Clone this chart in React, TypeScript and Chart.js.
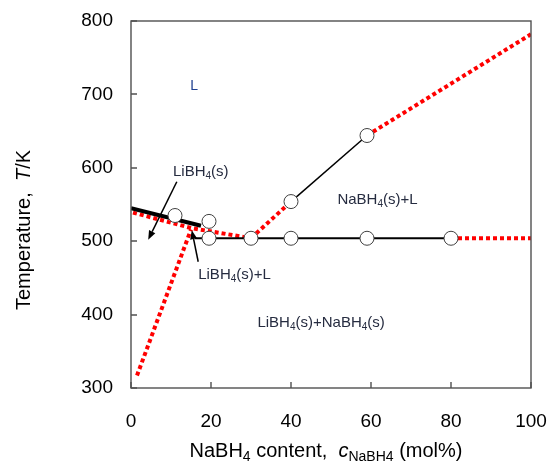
import React, { useEffect, useRef } from "react";
import { Chart, registerables } from "chart.js";
Chart.register(...registerables);

// ---- data (x: NaBH4 content mol%, y: temperature K) ----
const xTickValues = [0, 20, 40, 60, 80, 100];
const yTickValues = [300, 400, 500, 600, 700, 800];

const thickSolidX = [0, 17.5];
const thickSolidY = [545, 521];
const eutecticX = [16, 80];
const eutecticY = [504, 504];
const liquidusNaX = [40, 59];
const liquidusNaY = [554, 644];

const redLiX = [0.5, 15, 30];
const redLiY = [539, 518, 504];
const redSteepX = [1.5, 15];
const redSteepY = [317, 516];
const redMidX = [30, 40];
const redMidY = [504, 554];
const redHighX = [59, 100];
const redHighY = [644, 782];
const redFlatX = [80, 100];
const redFlatY = [504, 504];

const circleX = [11, 19.5, 19.5, 30, 40, 59, 80, 40, 59];
const circleY = [535, 527, 504, 504, 504, 504, 504, 554, 644];

type Part = { t: string; sub?: boolean; italic?: boolean };
const labelL: Part[] = [{ t: "L" }];
const labelLi: Part[] = [{ t: "LiBH" }, { t: "4", sub: true }, { t: "(s)" }];
const labelLiL: Part[] = [{ t: "LiBH" }, { t: "4", sub: true }, { t: "(s)+L" }];
const labelNaL: Part[] = [{ t: "NaBH" }, { t: "4", sub: true }, { t: "(s)+L" }];
const labelLiNa: Part[] = [
  { t: "LiBH" }, { t: "4", sub: true }, { t: "(s)+NaBH" }, { t: "4", sub: true }, { t: "(s)" },
];
const labelAnchorsX = [14.8, 10.5, 16.8, 51.6, 31.6];
const labelAnchorsY = [711, 595, 454, 556, 389];
const labelParts = [labelL, labelLi, labelLiL, labelNaL, labelLiNa];

const arrowFromX = [11.45, 16.8];
const arrowFromY = [581, 472];
const arrowToX = [4.3, 15.2];
const arrowToY = [502, 515];

const xTitle: Part[] = [
  { t: "NaBH" }, { t: "4", sub: true }, { t: " content,  " }, { t: "c", italic: true },
  { t: "NaBH4", sub: true }, { t: " (mol%)" },
];
const yTitle: Part[] = [{ t: "Temperature,  " }, { t: "T", italic: true }, { t: "/K" }];

const FONT = "'Liberation Sans', Arial, sans-serif";
const FRAME = "#505050";

const pts = (xs: number[], ys: number[]) => xs.map((x, i) => ({ x, y: ys[i] }));

function partFont(p: Part, size: number) {
  const s = p.sub ? Math.round(size * 0.68) : size;
  return `${p.italic ? "italic " : ""}${s}px ${FONT}`;
}

function richWidth(ctx: CanvasRenderingContext2D, parts: Part[], size: number) {
  let w = 0;
  for (const p of parts) {
    ctx.font = partFont(p, size);
    w += ctx.measureText(p.t).width;
  }
  return w;
}

function drawRich(ctx: CanvasRenderingContext2D, parts: Part[], x: number, y: number, size: number, color: string) {
  ctx.fillStyle = color;
  ctx.textBaseline = "middle";
  ctx.textAlign = "left";
  let cx = x;
  for (const p of parts) {
    ctx.font = partFont(p, size);
    ctx.fillText(p.t, cx, p.sub ? y + size * 0.3 : y);
    cx += ctx.measureText(p.t).width;
  }
}

const annotationPlugin = {
  id: "phaseAnnotations",
  afterDraw(chart: any) {
    const ctx: CanvasRenderingContext2D = chart.ctx;
    const xs = chart.scales.x;
    const ys = chart.scales.y;
    const area = chart.chartArea;
    ctx.save();
    ctx.setLineDash([]);

    // frame + inward ticks
    const l = Math.round(area.left);
    const t = Math.round(area.top);
    const r = Math.round(area.right);
    const b = Math.round(area.bottom);
    ctx.strokeStyle = FRAME;
    ctx.lineWidth = 1.4;
    ctx.strokeRect(l, t, r - l, b - t);
    ctx.beginPath();
    for (const v of xTickValues) {
      const px = Math.round(xs.getPixelForValue(v));
      ctx.moveTo(px, b);
      ctx.lineTo(px, b - 6);
    }
    for (const v of yTickValues) {
      const py = Math.round(ys.getPixelForValue(v));
      ctx.moveTo(l, py);
      ctx.lineTo(l + 6, py);
    }
    ctx.stroke();

    // arrows
    ctx.strokeStyle = "#000";
    ctx.fillStyle = "#000";
    ctx.lineWidth = 1.5;
    for (let i = 0; i < arrowFromX.length; i++) {
      const x1 = xs.getPixelForValue(arrowFromX[i]);
      const y1 = ys.getPixelForValue(arrowFromY[i]);
      const x2 = xs.getPixelForValue(arrowToX[i]);
      const y2 = ys.getPixelForValue(arrowToY[i]);
      const ang = Math.atan2(y2 - y1, x2 - x1);
      const L = 9, W = 3.5;
      const bx = x2 - L * Math.cos(ang);
      const by = y2 - L * Math.sin(ang);
      ctx.beginPath();
      ctx.moveTo(x1, y1);
      ctx.lineTo(bx, by);
      ctx.stroke();
      ctx.beginPath();
      ctx.moveTo(x2, y2);
      ctx.lineTo(bx + W * Math.sin(ang), by - W * Math.cos(ang));
      ctx.lineTo(bx - W * Math.sin(ang), by + W * Math.cos(ang));
      ctx.closePath();
      ctx.fill();
    }

    // region labels
    for (let i = 0; i < labelParts.length; i++) {
      const px = xs.getPixelForValue(labelAnchorsX[i]);
      const py = ys.getPixelForValue(labelAnchorsY[i]);
      drawRich(ctx, labelParts[i], px, py, i === 0 ? 14 : 15, i === 0 ? "#1f3f8f" : "#262c40");
    }

    // axis titles
    const tSize = 20;
    const xw = richWidth(ctx, xTitle, tSize);
    drawRich(ctx, xTitle, 326 - xw / 2, 451, tSize, "#000");

    const yw = richWidth(ctx, yTitle, tSize);
    ctx.translate(24, 230);
    ctx.rotate(-Math.PI / 2);
    drawRich(ctx, yTitle, -yw / 2, 0, tSize, "#000");

    ctx.restore();
  },
};

export default function App() {
  const ref = useRef<HTMLCanvasElement | null>(null);

  useEffect(() => {
    document.body.style.margin = "0";
    const canvas = ref.current;
    if (!canvas) return;

    const red = (data: { x: number; y: number }[]) => ({
      data,
      showLine: true,
      borderColor: "#ff0000",
      borderWidth: 4,
      borderDash: [4, 3],
      borderCapStyle: "butt",
      pointRadius: 0,
      fill: false,
      order: 3,
    });
    const black = (data: { x: number; y: number }[], w: number) => ({
      data,
      showLine: true,
      borderColor: "#000",
      borderWidth: w,
      pointRadius: 0,
      fill: false,
      order: 2,
    });
    const zeroPad = (s: any) => {
      s.paddingTop = 0;
      s.paddingBottom = 0;
      s.paddingLeft = 0;
      s.paddingRight = 0;
    };

    const chart = new Chart(canvas, {
      type: "scatter",
      data: {
        datasets: [
          red(pts(redLiX, redLiY)),
          red(pts(redSteepX, redSteepY)),
          red(pts(redMidX, redMidY)),
          red(pts(redHighX, redHighY)),
          red(pts(redFlatX, redFlatY)),
          black(pts(thickSolidX, thickSolidY), 4),
          black(pts(eutecticX, eutecticY), 1.8),
          black(pts(liquidusNaX, liquidusNaY), 1.5),
          {
            data: pts(circleX, circleY),
            showLine: false,
            pointRadius: 7,
            pointBackgroundColor: "#ffffff",
            pointBorderColor: "#404040",
            pointBorderWidth: 1,
            order: 0,
          },
        ],
      },
      options: {
        responsive: false,
        animation: false,
        layout: { padding: { top: 21, right: 27, left: 0, bottom: 0 } },
        plugins: { legend: { display: false }, tooltip: { enabled: false } },
        scales: {
          x: {
            type: "linear",
            min: 0,
            max: 100,
            afterFit: (s: any) => { s.height = 75; zeroPad(s); },
            afterBuildTicks: (s: any) => { s.ticks = xTickValues.map((v) => ({ value: v })); },
            grid: { display: false, drawTicks: false },
            border: { display: false },
            ticks: { color: "#000", padding: 22, font: { family: FONT, size: 19 }, maxRotation: 0 },
          },
          y: {
            type: "linear",
            min: 300,
            max: 800,
            afterFit: (s: any) => { s.width = 131; zeroPad(s); },
            afterBuildTicks: (s: any) => { s.ticks = yTickValues.map((v) => ({ value: v })); },
            grid: { display: false, drawTicks: false },
            border: { display: false },
            ticks: { color: "#000", padding: 18, font: { family: FONT, size: 19 } },
          },
        },
      },
      plugins: [annotationPlugin],
    } as any);

    return () => chart.destroy();
  }, []);

  return (
    <div style={{ position: "absolute", left: 0, top: 0, width: 558, height: 463 }}>
      <canvas ref={ref} width={558} height={463} style={{ display: "block" }} />
    </div>
  );
}
